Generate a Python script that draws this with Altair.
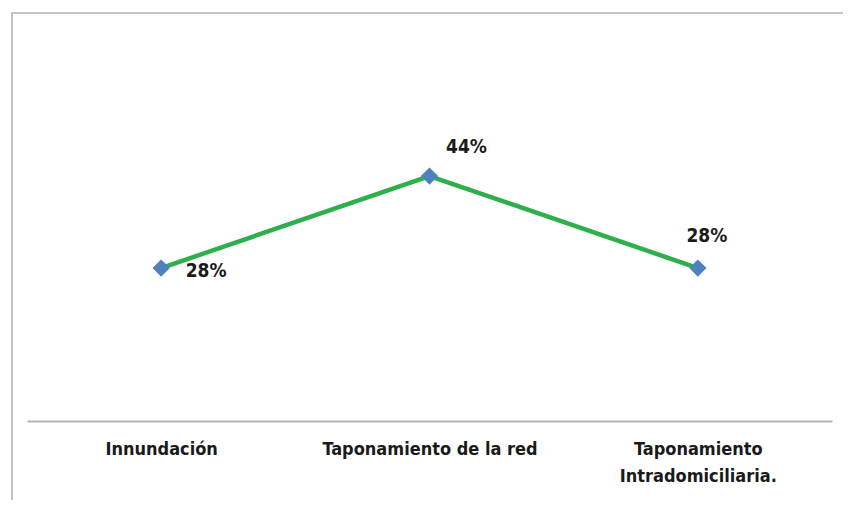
import altair as alt
import pandas as pd

categories = ["Innundación", "Taponamiento de la red", "Taponamiento intradomiciliaria."]
values = [0.28, 0.44, 0.28]
labels = ["28%", "44%", "28%"]

df = pd.DataFrame({"cat": categories, "val": values, "lab": labels})

FONT = "Liberation Sans Narrow, Arial Narrow, DejaVu Sans Condensed, Liberation Sans, sans-serif"

x_enc = alt.X(
    "cat:N",
    sort=categories,
    scale=alt.Scale(paddingInner=0, paddingOuter=0),
    axis=alt.Axis(
        title=None,
        labelAngle=0,
        ticks=False,
        grid=False,
        domainColor="#B3B3B3",
        domainWidth=2,
        labelFont=FONT,
        labelFontSize=18,
        labelFontWeight="bold",
        labelColor="#1a1a1a",
        labelPadding=19,
        labelLineHeight=27,
        labelLimit=0,
        labelExpr="datum.label == 'Taponamiento intradomiciliaria.' ? ['Taponamiento', 'Intradomiciliaria.'] : datum.label",
    ),
)
y_enc = alt.Y(
    "val:Q",
    scale=alt.Scale(domain=[0.014, 0.694], nice=False, zero=False),
    axis=None,
)

base = alt.Chart(df)

frame = alt.Chart(pd.DataFrame({"k": [0]})).mark_rect(
    fill=None, stroke="#C4C4C4", strokeWidth=2, clip=False
).encode(
    x=alt.value(-15), x2=alt.value(900), y=alt.value(-17), y2=alt.value(600)
)

line = base.mark_line(color="#2DB04B", strokeWidth=4.5).encode(x=x_enc, y=y_enc)
pts = base.mark_point(shape="diamond", filled=True, color="#4F81BD", size=300, opacity=1).encode(
    x=x_enc, y=y_enc
)

offsets = [(45, 3), (37, -29), (9, -32)]
texts = []
for i, (dx, dy) in enumerate(offsets):
    texts.append(
        alt.Chart(df.iloc[[i]])
        .mark_text(
            font=FONT, fontSize=19, fontWeight="bold", color="#1a1a1a",
            align="center", baseline="middle", dx=dx, dy=dy,
        )
        .encode(x=x_enc, y=y_enc, text="lab:N")
    )

chart = alt.layer(frame, line, pts, *texts).properties(
    width=805,
    height=391,
    padding={"left": 19, "top": 22, "right": 11, "bottom": 79},
    autosize=alt.AutoSizeParams(type="none"),
    background="white",
).configure_view(strokeWidth=0, stroke=None)

chart.save("out.html", embed_options={"renderer": "svg", "actions": False})
